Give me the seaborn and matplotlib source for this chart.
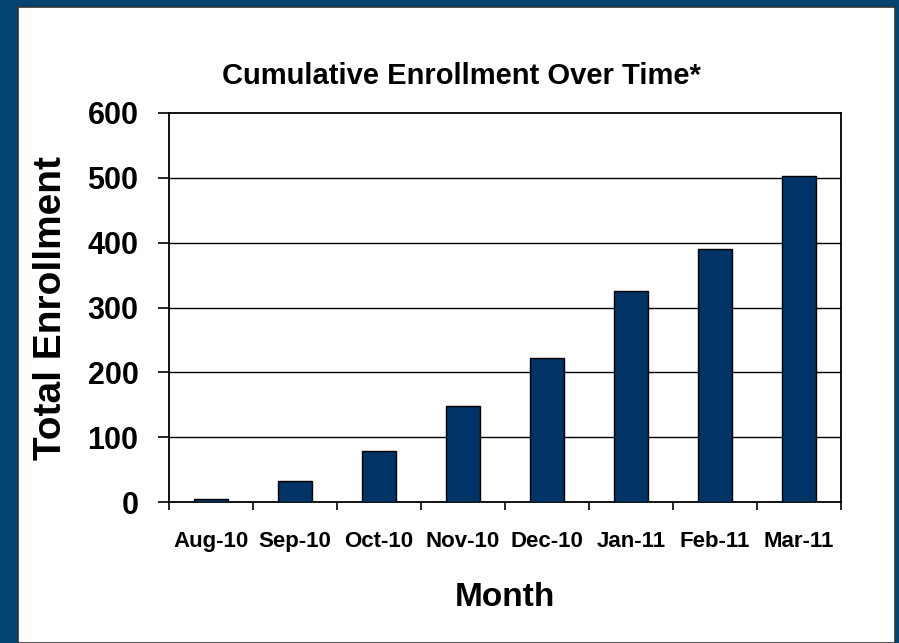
import matplotlib
matplotlib.use("Agg")
import matplotlib.pyplot as plt
from matplotlib.patches import Rectangle
from matplotlib.ticker import FixedLocator
import seaborn as sns
import pandas as pd

# Monthly cumulative enrollment
months = ["Aug-10", "Sep-10", "Oct-10", "Nov-10", "Dec-10", "Jan-11", "Feb-11", "Mar-11"]
enrollment = [4, 32, 79, 148, 222, 326, 390, 503]
y_ticks = [0, 100, 200, 300, 400, 500, 600]

title_text = "Cumulative Enrollment Over Time*"
x_label = "Month"
y_label = "Total Enrollment"

df = pd.DataFrame({"Month": months, "Enrollment": enrollment})

sns.set_theme(style="white")
plt.rcParams["font.family"] = ["Liberation Sans", "DejaVu Sans"]
plt.rcParams["font.weight"] = "bold"
for key in ("text.color", "axes.labelcolor", "xtick.color", "ytick.color"):
    plt.rcParams[key] = "black"

W, H = 899, 643
fig = plt.figure(figsize=(W / 100, H / 100), dpi=100, facecolor="#02436F")

# white slide panel behind the chart
fig.patches.append(Rectangle((18 / W, 0), (895 - 18) / W, 1 - 7 / H,
                             transform=fig.transFigure, facecolor="white",
                             edgecolor="#333333", linewidth=1.2, zorder=-10))

ax = fig.add_axes([169 / W, 1 - 502 / H, (841 - 169) / W, (502 - 113) / H])
ax.set_facecolor("white")

sns.barplot(data=df, x="Month", y="Enrollment", ax=ax, color="#003366",
            saturation=1, width=0.4, edgecolor="black", linewidth=1.0, zorder=3)

ax.set_ylim(0, 600)
ax.set_xlim(-0.5, len(months) - 0.5)
ax.set_yticks(y_ticks)
ax.set_yticklabels([str(v) for v in y_ticks], fontsize=22, fontweight="bold")
for v in y_ticks[1:-1]:
    ax.axhline(v, color="black", linewidth=1.0, zorder=1)

ax.set_xticks(range(len(months)))
ax.set_xticklabels(months, fontsize=16, fontweight="bold")
ax.xaxis.set_minor_locator(FixedLocator([i - 0.5 for i in range(len(months) + 1)]))
ax.tick_params(axis="x", which="major", length=0, pad=21, colors="black")
ax.tick_params(axis="x", which="minor", bottom=True, length=6, width=1.2, color="black")
ax.tick_params(axis="y", which="major", left=True, length=8, width=1.2, color="black",
               labelcolor="black", pad=14)

for s in ax.spines.values():
    s.set_color("black")
    s.set_linewidth(1.3)
    s.set_visible(True)

ax.set_xlabel(x_label, fontsize=24, fontweight="bold", color="black")
ax.set_ylabel(y_label, fontsize=28, fontweight="bold", color="black")
ax.xaxis.set_label_coords(0.5, (502 - 597) / (502 - 113))
ax.xaxis.label.set_verticalalignment("center")
ax.yaxis.set_label_coords((51 - 169) / (841 - 169), 0.5)
ax.yaxis.label.set_verticalalignment("center")

ax.text((461 - 169) / (841 - 169), (502 - 84) / (502 - 113), title_text,
        transform=ax.transAxes, ha="center", va="baseline",
        fontsize=21, fontweight="bold", color="black")

fig.savefig("out.png", dpi=100, facecolor=fig.get_facecolor())
